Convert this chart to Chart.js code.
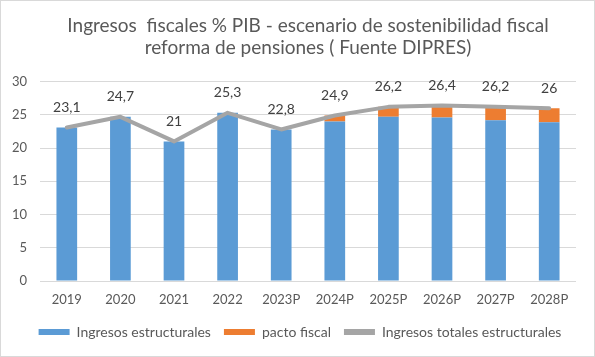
<!DOCTYPE html>
<html><head><meta charset="utf-8">
<script src="https://cdn.jsdelivr.net/npm/chart.js@4"></script>
<style>
html,body{margin:0;padding:0;background:#fff;}
#wrap{position:relative;width:595px;height:357px;}
#frame{position:absolute;left:0;top:0;width:593px;height:355px;border:1px solid #d9d9d9;pointer-events:none;}
</style>
</head><body>
<div id="wrap"><canvas id="c" width="595" height="357"></canvas><div id="frame"></div></div>
<script>
const categories = ['2019','2020','2021','2022','2023P','2024P','2025P','2026P','2027P','2028P'];
const ingresosEstructurales = [23.1,24.7,21,25.3,22.8,24.0,24.7,24.6,24.2,23.9];
const pactoFiscal = [null,null,null,null,null,0.9,1.5,1.8,2.0,2.1];
const ingresosTotales = [23.1,24.7,21,25.3,22.8,24.9,26.2,26.4,26.2,26];
const yTicks = [0,5,10,15,20,25,30];
const titleLines = ['Ingresos  fiscales % PIB - escenario de sostenibilidad fiscal','reforma de pensiones ( Fuente DIPRES)'];
const seriesNames = ['Ingresos estructurales','pacto fiscal','Ingresos totales estructurales'];

const FONT = 'Lato';
const TXT = '#595959';

const lineLabels = {
  id: 'lineLabels',
  afterDatasetsDraw(chart) {
    const meta = chart.getDatasetMeta(2);
    const ctx = chart.ctx;
    ctx.save();
    ctx.font = '14px ' + FONT;
    ctx.fillStyle = '#404040';
    ctx.textAlign = 'center';
    ctx.textBaseline = 'middle';
    meta.data.forEach((pt, i) => {
      ctx.fillText(String(ingresosTotales[i]).replace('.', ','), pt.x, pt.y - 20);
    });
    ctx.restore();
  }
};

// center the legend row like the original (slightly right of canvas centre)
const legendShift = {
  id: 'legendShift',
  afterLayout(chart) {
    if (chart.legend) { chart.legend.left = 24; }
  }
};

new Chart(document.getElementById('c'), {
  type: 'bar',
  data: {
    labels: categories,
    datasets: [
      { type: 'bar', label: seriesNames[0], data: ingresosEstructurales, backgroundColor: '#5B9BD5', stack: 's', order: 1,
        barPercentage: 0.386, categoryPercentage: 1 },
      { type: 'bar', label: seriesNames[1], data: pactoFiscal, backgroundColor: '#ED7D31', stack: 's', order: 1,
        barPercentage: 0.386, categoryPercentage: 1 },
      { type: 'line', label: seriesNames[2], data: ingresosTotales, borderColor: '#A5A5A5', backgroundColor: '#A5A5A5',
        borderWidth: 4, pointRadius: 0, tension: 0, borderCapStyle: 'round', borderJoinStyle: 'round', stack: 'l', order: 0 }
    ]
  },
  options: {
    responsive: false,
    animation: false,
    devicePixelRatio: 1,
    layout: { padding: { top: 0, left: 0, right: 19, bottom: 8 } },
    scales: {
      x: {
        stacked: true,
        grid: { display: false, drawTicks: false },
        border: { display: false },
        ticks: { color: TXT, font: { family: FONT, size: 13 }, padding: 11, maxRotation: 0 },
        afterFit(scale) { scale.height = 31; }
      },
      y: {
        stacked: true,
        min: 0, max: 30,
        grid: { color: '#D9D9D9', drawTicks: false, lineWidth: 1 },
        border: { display: false },
        ticks: { color: TXT, font: { family: FONT, size: 13 }, padding: 13, stepSize: 5 },
        afterBuildTicks(scale) { scale.ticks = yTicks.map(v => ({ value: v })); },
        afterFit(scale) { scale.width = 40; }
      }
    },
    plugins: {
      title: {
        display: true,
        text: titleLines,
        color: TXT,
        fullSize: false,
        font: { family: FONT, size: 19, weight: 'normal', lineHeight: 1.2 },
        padding: { top: 14, bottom: 22 }
      },
      legend: {
        position: 'bottom',
        labels: {
          boxWidth: 31, boxHeight: 6, padding: 13, color: TXT,
          font: { family: FONT, size: 14 },
          generateLabels(chart) {
            return chart.data.datasets.map((ds, i) => ({
              text: ds.label,
              fillStyle: ds.type === 'line' ? ds.borderColor : ds.backgroundColor,
              strokeStyle: ds.type === 'line' ? ds.borderColor : ds.backgroundColor,
              lineWidth: 0,
              hidden: false,
              datasetIndex: i,
              fontColor: TXT
            }));
          }
        }
      },
      tooltip: { enabled: false }
    }
  },
  plugins: [lineLabels, legendShift]
});
</script>
</body></html>
